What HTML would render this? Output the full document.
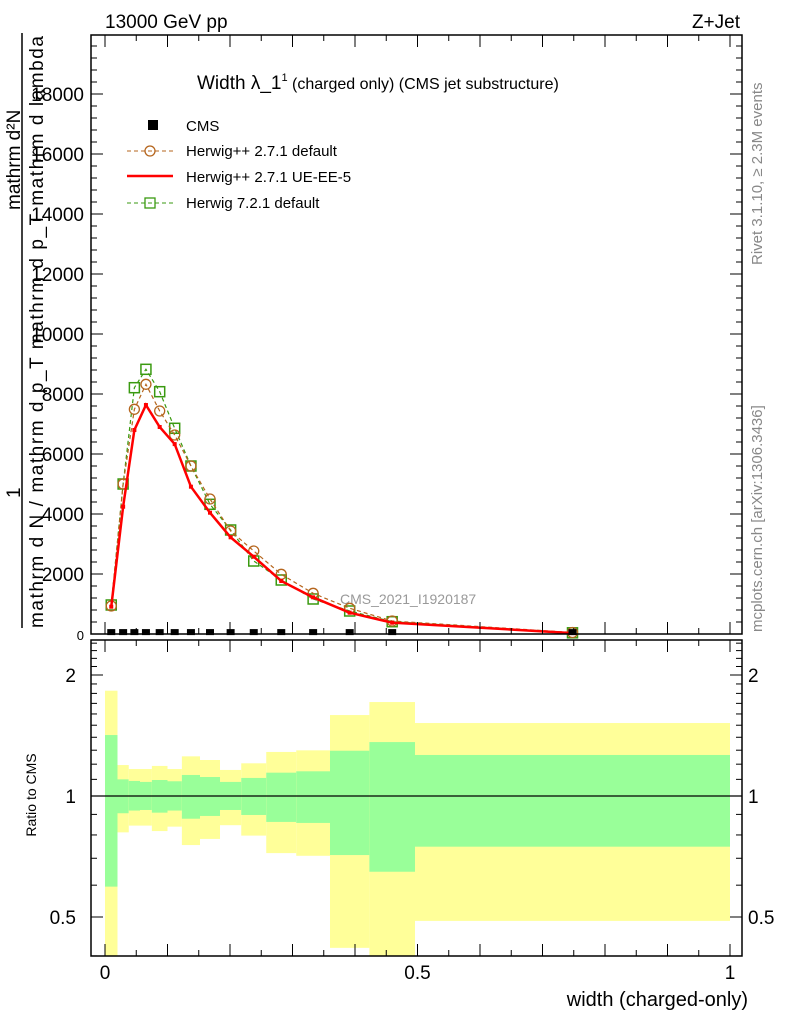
<!DOCTYPE html>
<html><head><meta charset="utf-8"><style>
body{margin:0;background:#fff;}
svg{display:block;font-family:"Liberation Sans",sans-serif;}
</style></head><body>
<svg id="c" width="786" height="1024" viewBox="0 0 786 1024">
<text x="105" y="28" font-size="19">13000 GeV pp</text>
<text x="740" y="28" font-size="19" text-anchor="end">Z+Jet</text>
<text x="197" y="89" font-size="19">Width λ_1<tspan font-size="11" dy="-8">1</tspan><tspan font-size="16" dy="8"> (charged only) (CMS jet substructure)</tspan></text>
<text transform="translate(762,265) rotate(-90)" font-size="15" fill="#888">Rivet 3.1.10, ≥ 2.3M events</text>
<text transform="translate(762,632) rotate(-90)" font-size="15" fill="#888">mcplots.cern.ch [arXiv:1306.3436]</text>
<text x="340" y="604" font-size="14" fill="#999">CMS_2021_I1920187</text>
<g>
<text transform="translate(20,210) rotate(-90)" font-size="19">mathrm d²N</text>
<line x1="22" y1="33" x2="22" y2="628" stroke="#000" stroke-width="1.5"/>
<text transform="translate(20,498) rotate(-90)" font-size="19">1</text>
<text transform="translate(43,628) rotate(-90)" font-size="19" textLength="592">mathrm d N / mathrm d p_T mathrm d p_T mathrm d lambda</text>
</g>
<text transform="translate(36,795) rotate(-90)" font-size="14" text-anchor="middle">Ratio to CMS</text>
<text x="748" y="1006" font-size="20" text-anchor="end">width (charged-only)</text>
<g id="ratio"></g>
<g id="main"></g>
<g id="axes"></g>
<g>
<rect x="148" y="120" width="10" height="10" fill="#000"/>
<text x="186" y="131" font-size="15">CMS</text>
<line x1="127" y1="151" x2="173" y2="151" stroke="#b5651d" stroke-dasharray="4,3"/>
<circle cx="150" cy="151" r="5" fill="none" stroke="#b5651d" stroke-width="1.3"/>
<text x="186" y="156" font-size="15">Herwig++ 2.7.1 default</text>
<line x1="127" y1="176" x2="173" y2="176" stroke="#f00" stroke-width="2.5"/>
<text x="186" y="182" font-size="15">Herwig++ 2.7.1 UE-EE-5</text>
<line x1="127" y1="203" x2="173" y2="203" stroke="#3a9a10" stroke-dasharray="4,3"/>
<rect x="145" y="198" width="10" height="10" fill="none" stroke="#3a9a10" stroke-width="1.3"/>
<text x="186" y="208" font-size="15">Herwig 7.2.1 default</text>
</g>
</svg>
<script>
const binEdges=[0,0.020,0.038,0.056,0.075,0.1,0.123,0.152,0.184,0.218,0.258,0.306,0.36,0.423,0.496,1.0];
const cmsVals=[30,30,30,30,30,30,30,30,30,30,30,30,30,30,30];
const ueVals=[910,4243,6800,7633,6900,6330,4910,4043,3223,2577,1767,1223,710,377,30];
const hppVals=[933,5000,7490,8323,7433,6633,5600,4500,3433,2767,1990,1357,857,433,50];
const h7Vals=[967,5000,8210,8823,8077,6857,5600,4323,3467,2433,1800,1167,767,410,40];
const yellowHi=[1.828,1.194,1.167,1.167,1.188,1.167,1.255,1.229,1.161,1.206,1.287,1.299,1.590,1.713,1.519];
const greenHi=[1.418,1.100,1.090,1.084,1.096,1.088,1.128,1.115,1.084,1.109,1.143,1.152,1.296,1.362,1.265];
const greenLo=[0.595,0.906,0.920,0.923,0.909,0.920,0.878,0.892,0.923,0.897,0.862,0.857,0.713,0.648,0.748];
const yellowLo=[0.3,0.812,0.844,0.844,0.818,0.839,0.755,0.782,0.846,0.797,0.721,0.710,0.419,0.3,0.489];
const mainTicks=[2000,4000,6000,8000,10000,12000,14000,16000,18000];
const ratioTicks=[0.5,1,2];
const xTicks=[0,0.5,1];
const NS="http://www.w3.org/2000/svg";
const L=91,R=742,MT=35,MB=634,RT=640,RB=956;
const X=v=>105+625*v;
const Y=v=>634-v*0.03;
const RY=r=>Math.min(RB,Math.max(RT,796-121*Math.log2(r)));
function mk(p,t,a){const e=document.createElementNS(NS,t);for(const k in a)e.setAttribute(k,a[k]);p.appendChild(e);return e;}
const ratio=document.getElementById('ratio'),main=document.getElementById('main'),axes=document.getElementById('axes');
for(let i=0;i<greenHi.length;i++){
  const x1=X(binEdges[i]),x2=X(binEdges[i+1]);
  const y1=mk(ratio,'rect',{x:x1,y:RY(yellowHi[i]),width:x2-x1,height:RY(yellowLo[i])-RY(yellowHi[i]),fill:'#ffff99'});
  
  
  const g1=mk(ratio,'rect',{x:x1,y:RY(greenHi[i]),width:x2-x1,height:RY(greenLo[i])-RY(greenHi[i]),fill:'#99ff99'});
  
  
}
const rl=mk(ratio,'line',{x1:L,x2:R,y1:RY(1),y2:RY(1),stroke:'#000','stroke-width':1.2});


const ctr=binEdges.slice(0,-1).map((e,i)=>(e+binEdges[i+1])/2);
function series(vals,color,dash,w,marker,name){
  const pts=vals.map((v,i)=>X(ctr[i])+','+Y(v)).join(' ');
  const pl=mk(main,'polyline',{points:pts,fill:'none',stroke:color,'stroke-width':w,'stroke-dasharray':dash});
  
  
  vals.forEach((v,i)=>{
    const cx=X(ctr[i]),cy=Y(v);let m;
    if(marker==='c')m=mk(main,'circle',{cx:cx,cy:cy,r:5,fill:'none',stroke:color,'stroke-width':1.3});
    else if(marker==='s')m=mk(main,'rect',{x:cx-5,y:cy-5,width:10,height:10,fill:'none',stroke:color,'stroke-width':1.5});
    else m=mk(main,'rect',{x:cx-2,y:cy-2,width:4,height:4,fill:color});
    
    
  });
}
series(h7Vals,'#3a9a10','4,3',1.2,'s','herwig7-default');
series(hppVals,'#b5651d','4,3',1.2,'c','herwigpp-default');
series(ueVals,'#f00','',2.5,'t','herwigpp-ue-ee-5');
cmsVals.forEach((v,i)=>{
  const m=mk(main,'rect',{x:X(ctr[i])-4,y:Y(v)-4,width:8,height:6,fill:'#000'});
  
  
});
const f1=mk(axes,'rect',{x:L,y:MT,width:R-L,height:MB-MT,fill:'none',stroke:'#000','stroke-width':1.5});


const f2=mk(axes,'rect',{x:L,y:RT,width:R-L,height:RB-RT,fill:'none',stroke:'#000','stroke-width':1.5});


for(let v=0;v<=19600;v+=400){const y=Y(v);const len=v%2000===0?12:6;
  mk(axes,'line',{x1:L,x2:L+len,y1:y,y2:y,stroke:'#000'});mk(axes,'line',{x1:R,x2:R-len,y1:y,y2:y,stroke:'#000'});}
mainTicks.forEach(v=>{const t=mk(axes,'text',{x:84,y:Y(v)+7,'font-size':19,'text-anchor':'end'});t.textContent=v;
  
  });
const z=mk(axes,'text',{x:84,y:640,'font-size':13,'text-anchor':'end'});z.textContent='0';
[0.4,0.5,0.6,0.7,0.8,0.9,1,1.1,1.2,1.3,1.4,1.5,1.6,1.7,1.8,1.9,2,2.1,2.2,2.3,2.4].forEach(r=>{const y=RY(r);if(y<=RT||y>=RB)return;
  const len=ratioTicks.includes(r)?12:6;
  mk(axes,'line',{x1:L,x2:L+len,y1:y,y2:y,stroke:'#000'});mk(axes,'line',{x1:R,x2:R-len,y1:y,y2:y,stroke:'#000'});});
ratioTicks.forEach(r=>{
  const t=mk(axes,'text',{x:76,y:RY(r)+7,'font-size':19,'text-anchor':'end'});t.textContent=r;
  
  
  const t2=mk(axes,'text',{x:748,y:RY(r)+7,'font-size':19});t2.textContent=r;
  
  });
for(let k=0;k<=20;k++){const v=k*0.05,x=X(v);const len=k%2===0?12:6;
  [[MB,-1],[MT,1],[RB,-1],[RT,1]].forEach(([y0,d])=>mk(axes,'line',{x1:x,x2:x,y1:y0,y2:y0+d*len,stroke:'#000'}));}
xTicks.forEach(v=>{const t=mk(axes,'text',{x:X(v),y:979,'font-size':19,'text-anchor':'middle'});t.textContent=v;
  
  });
</script>
</body></html>
